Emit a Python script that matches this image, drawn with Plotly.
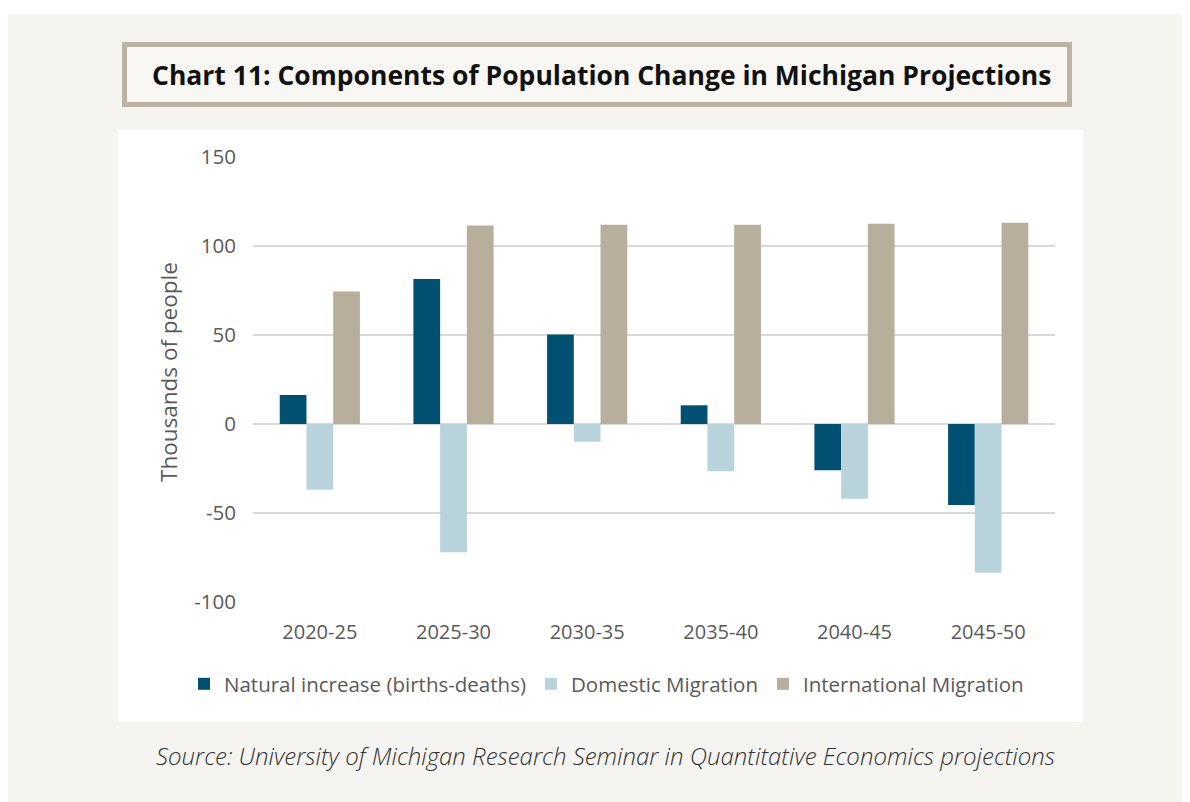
import plotly.graph_objects as go

periods = ["2020-25", "2025-30", "2030-35", "2035-40", "2040-45", "2045-50"]
natural_increase = [16.3, 81.5, 50.3, 10.5, -26.0, -45.5]
domestic_migration = [-37.0, -72.0, -10.0, -26.5, -42.0, -83.5]
international_migration = [74.5, 111.5, 112.0, 112.0, 112.5, 113.0]

series_names = ["Natural increase (births-deaths)", "Domestic Migration", "International Migration"]
series_colors = ["#014f71", "#b9d3dc", "#b7af9b"]

title_text = "Chart 11: Components of Population Change in Michigan Projections"
source_text = "Source: University of Michigan Research Seminar in Quantitative Economics projections"
y_title = "Thousands of people"
y_ticks = [-100, -50, 0, 50, 100, 150]
y_tick_labels = ["-100", "-50", "0", "50", "100", "150"]

fig = go.Figure()
for name, vals, col in zip(series_names, [natural_increase, domestic_migration, international_migration], series_colors):
    fig.add_trace(go.Bar(x=periods, y=vals, name=name, marker=dict(color=col, line=dict(width=0))))

# page body has an 8px margin: screen = figure + 8
OFF = 8
W, H = 1190, 802
L, R, T, B = 253 - OFF, 1055 - OFF, 157 - OFF, 602 - OFF
def px(x):
    return (x - OFF - L) / (R - L)
def py(y):
    return (B - (y - OFF)) / (B - T)

shapes = [
    dict(type="rect", xref="paper", yref="paper", x0=px(7), x1=px(1200), y0=py(810), y1=py(14),
         fillcolor="#f5f4f0", line=dict(width=0), layer="below"),
    dict(type="rect", xref="paper", yref="paper", x0=px(118), x1=px(1083), y0=py(722), y1=py(130),
         fillcolor="white", line=dict(width=0), layer="below"),
    dict(type="rect", xref="paper", yref="paper", x0=px(124.5), x1=px(1069.5), y0=py(104.5), y1=py(44.5),
         fillcolor="#f8f7f3", line=dict(color="#bcb4a2", width=5), layer="below"),
]

annotations = [
    dict(text="<b>" + title_text + "</b>", xref="paper", yref="paper", x=px(601), y=py(75),
         showarrow=False, font=dict(family="Open Sans", size=26.5, color="#111111"), xanchor="center", yanchor="middle"),
    dict(text="<i>" + source_text + "</i>", xref="paper", yref="paper", x=px(605.5), y=py(756),
         showarrow=False, font=dict(family="Open Sans", size=24, color="#333333", weight=300),
         xanchor="center", yanchor="middle"),
    dict(text=y_title, xref="paper", yref="paper", x=px(168), y=py(372), textangle=-90,
         showarrow=False, font=dict(family="Open Sans", size=22.5, color="#595959"), xanchor="center", yanchor="middle"),
]

fig.update_layout(
    width=W, height=H,
    margin=dict(l=L, r=W - R, t=T, b=H - B, pad=0, autoexpand=False),
    paper_bgcolor="white",
    plot_bgcolor="white",
    barmode="group",
    bargap=0.4,
    bargroupgap=0,
    shapes=shapes,
    annotations=annotations,
    showlegend=True,
    legend=dict(orientation="h", x=px(184), y=py(684), xanchor="left", yanchor="middle",
                font=dict(family="Open Sans", size=20.5, color="#595959"), bgcolor="rgba(0,0,0,0)",
                itemwidth=30, traceorder="normal"),
    font=dict(family="Open Sans", color="#595959"),
)
fig.update_yaxes(range=[-100, 150], tickvals=y_ticks, ticktext=y_tick_labels, showgrid=True,
                 gridcolor="#d9d9d9", gridwidth=1.5,
                 zeroline=True, zerolinecolor="#d9d9d9", zerolinewidth=1.5, showline=False,
                 tickfont=dict(family="Open Sans", size=20.5, color="#595959"), ticks="", ticklabelstandoff=16)
fig.update_xaxes(showgrid=False, showline=False, ticks="",
                 tickfont=dict(family="Open Sans", size=20, color="#595959"), ticklabelstandoff=16)

fig.write_html("out.html")
